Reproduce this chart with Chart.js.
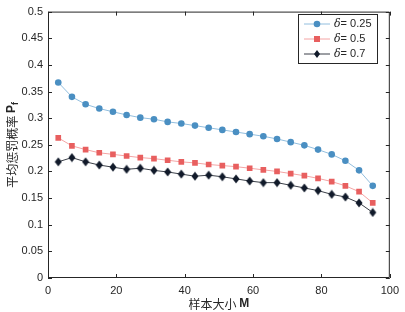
<!DOCTYPE html>
<html>
<head>
<meta charset="utf-8">
<script src="https://cdn.jsdelivr.net/npm/chart.js@4.4.0/dist/chart.umd.min.js"></script>
<style>
  html, body { margin: 0; padding: 0; background: #fff; }
  #wrap { width: 405px; height: 312px; }
</style>
</head>
<body>
<div id="wrap"><canvas id="c" width="405" height="312"></canvas></div>
<script>
// sample size M
const sizes = [3, 7, 11, 15, 19, 23, 27, 31, 35, 39, 43, 47, 51, 55, 59, 63, 67, 71, 75, 79, 83, 87, 91, 95];
// average punishment probability, one list per delta
const pf_025 = [0.367, 0.340, 0.326, 0.318, 0.312, 0.306, 0.301, 0.298, 0.293, 0.290, 0.286, 0.282,
                0.278, 0.274, 0.270, 0.266, 0.261, 0.255, 0.249, 0.241, 0.232, 0.220, 0.202, 0.173];
const pf_05  = [0.263, 0.248, 0.241, 0.235, 0.232, 0.229, 0.226, 0.224, 0.221, 0.218, 0.216, 0.213,
                0.211, 0.209, 0.206, 0.203, 0.200, 0.196, 0.192, 0.187, 0.181, 0.173, 0.162, 0.141];
const pf_07  = [0.218, 0.226, 0.218, 0.212, 0.208, 0.204, 0.206, 0.202, 0.199, 0.195, 0.191, 0.193,
                0.190, 0.186, 0.182, 0.179, 0.179, 0.174, 0.169, 0.164, 0.157, 0.152, 0.141, 0.123];
const legendNames = ['0.25', '0.5', '0.7'];
const xTicks = [0, 20, 40, 60, 80, 100];
const yTicks = [0, 0.05, 0.1, 0.15, 0.2, 0.25, 0.3, 0.35, 0.4, 0.45, 0.5];

const txtColor = '#262626';
const sansFont = '"Liberation Sans", Arial, sans-serif';
const cjkFont = '"Noto Sans CJK SC", sans-serif';

function pts(ys) {
    return sizes.map((x, i) => ({ x: x, y: ys[i] }));
}

// box round the plot with inward ticks on all four sides (matlab look)
const boxPlugin = {
    id: 'box',
    afterDraw(chart) {
        const ctx = chart.ctx, a = chart.chartArea;
        const xs = chart.scales.x, ys = chart.scales.y;
        ctx.save();
        ctx.strokeStyle = '#262626';
        ctx.lineWidth = 1;
        ctx.beginPath();
        ctx.rect(a.left + 0.5, a.top + 0.5, a.right - a.left - 1, a.bottom - a.top - 1);
        xTicks.forEach(v => {
            const px = Math.round(xs.getPixelForValue(v)) + 0.5;
            ctx.moveTo(px, a.bottom); ctx.lineTo(px, a.bottom - 4);
            ctx.moveTo(px, a.top); ctx.lineTo(px, a.top + 4);
        });
        yTicks.forEach(v => {
            const py = Math.round(ys.getPixelForValue(v)) + 0.5;
            ctx.moveTo(a.left, py); ctx.lineTo(a.left + 4, py);
            ctx.moveTo(a.right, py); ctx.lineTo(a.right - 4, py);
        });
        ctx.stroke();

        // axis titles
        ctx.fillStyle = txtColor;
        ctx.textBaseline = 'middle';
        // x title: 样本大小 M
        const t1 = '样本大小 ';
        ctx.font = 'bold 12px ' + sansFont;
        const w2 = ctx.measureText('M').width;
        ctx.font = '12px ' + cjkFont;
        const w1 = ctx.measureText(t1).width;
        let cx = (a.left + a.right) / 2 - (w1 + w2) / 2;
        ctx.textAlign = 'left';
        ctx.fillText(t1, cx, 304);
        ctx.font = 'bold 12px ' + sansFont;
        ctx.fillText('M', cx + w1, 304);

        // y title: 平均惩罚概率 P_f
        ctx.translate(12, (a.top + a.bottom) / 2);
        ctx.rotate(-Math.PI / 2);
        ctx.font = '12px ' + cjkFont;
        const s1 = '平均惩罚概率 ';
        const ws1 = ctx.measureText(s1).width;
        ctx.font = 'bold 12px ' + sansFont;
        const wp = ctx.measureText('P').width;
        ctx.font = 'bold 9px ' + sansFont;
        const wf = ctx.measureText('f').width;
        let sx = -(ws1 + wp + wf) / 2;
        ctx.font = '12px ' + cjkFont;
        ctx.fillText(s1, sx, 0);
        ctx.font = 'bold 12px ' + sansFont;
        ctx.fillText('P', sx + ws1, 0);
        ctx.font = 'bold 9px ' + sansFont;
        ctx.fillText('f', sx + ws1 + wp, 4);
        ctx.restore();

        // legend box in the upper right
        ctx.save();
        const lx = 298, ly = 14, lw = 79, lh = 49;
        ctx.fillStyle = '#fff';
        ctx.fillRect(lx, ly, lw, lh);
        ctx.strokeStyle = '#262626';
        ctx.lineWidth = 1;
        ctx.strokeRect(lx + 0.5, ly + 0.5, lw, lh);
        chart.data.datasets.forEach((ds, i) => {
            const yy = ly + 10 + i * 15;
            ctx.strokeStyle = ds.borderColor;
            ctx.beginPath();
            ctx.moveTo(lx + 6, yy); ctx.lineTo(lx + 32, yy);
            ctx.stroke();
            ctx.fillStyle = ds.pointBackgroundColor;
            ctx.beginPath();
            if (ds.pointStyle === 'circle') {
                ctx.arc(lx + 19, yy, 3.3, 0, Math.PI * 2);
            } else if (ds.pointStyle === 'rect') {
                ctx.rect(lx + 16, yy - 3, 6, 6);
            } else {
                ctx.moveTo(lx + 19, yy - 4); ctx.lineTo(lx + 22, yy);
                ctx.lineTo(lx + 19, yy + 4); ctx.lineTo(lx + 16, yy);
                ctx.closePath();
            }
            ctx.fill();
            ctx.fillStyle = txtColor;
            ctx.textAlign = 'left';
            ctx.textBaseline = 'middle';
            ctx.font = 'italic 11px "DejaVu Serif", serif';
            ctx.fillText('δ', lx + 36, yy);
            const wd = ctx.measureText('δ').width;
            ctx.font = '11px ' + sansFont;
            ctx.fillText('= ' + legendNames[i], lx + 36 + wd, yy);
        });
        ctx.restore();
    }
};

// black series uses tall diamonds like matlab 'd' markers
function diamond() {
    const c = document.createElement('canvas');
    c.width = 8; c.height = 10;
    const g = c.getContext('2d');
    g.fillStyle = '#111a2a';
    g.beginPath();
    g.moveTo(4, 0.5); g.lineTo(7.5, 5); g.lineTo(4, 9.5); g.lineTo(0.5, 5);
    g.closePath();
    g.fill();
    return c;
}

const chart = new Chart(document.getElementById('c'), {
    type: 'line',
    data: {
        datasets: [
            {
                label: 'δ= 0.25',
                data: pts(pf_025),
                borderColor: '#92bede',
                borderWidth: 1,
                pointStyle: 'circle',
                pointRadius: 3.3,
                pointBackgroundColor: '#4a8fc2',
                pointBorderWidth: 0
            },
            {
                label: 'δ= 0.5',
                data: pts(pf_05),
                borderColor: '#f4a4a4',
                borderWidth: 1,
                pointStyle: 'rect',
                pointRadius: 4,
                pointBackgroundColor: '#e85f5f',
                pointBorderWidth: 0
            },
            {
                label: 'δ= 0.7',
                data: pts(pf_07),
                borderColor: '#3a3f48',
                borderWidth: 1,
                pointStyle: diamond(),
                pointRadius: 4,
                pointBackgroundColor: '#111a2a',
                pointBorderWidth: 0
            }
        ]
    },
    options: {
        responsive: false,
        animation: false,
        layout: { padding: { top: 5, right: 10, left: 0, bottom: 0 } },
        plugins: {
            legend: { display: false },
            tooltip: { enabled: false }
        },
        scales: {
            x: {
                type: 'linear',
                min: 0, max: 100,
                afterBuildTicks: s => { s.ticks = xTicks.map(v => ({ value: v })); },
                afterFit: s => { s.height = 34; },
                grid: { display: false, drawTicks: false },
                border: { display: false },
                ticks: {
                    color: txtColor,
                    font: { family: sansFont, size: 11 },
                    padding: 6,
                    maxRotation: 0
                }
            },
            y: {
                type: 'linear',
                min: 0, max: 0.5,
                afterBuildTicks: s => { s.ticks = yTicks.map(v => ({ value: v })); },
                afterFit: s => { s.width = 48; },
                grid: { display: false, drawTicks: false },
                border: { display: false },
                ticks: {
                    color: txtColor,
                    font: { family: sansFont, size: 11 },
                    padding: 5,
                    callback: v => String(Math.round(v * 100) / 100)
                }
            }
        }
    },
    plugins: [boxPlugin]
});
</script>
</body>
</html>
